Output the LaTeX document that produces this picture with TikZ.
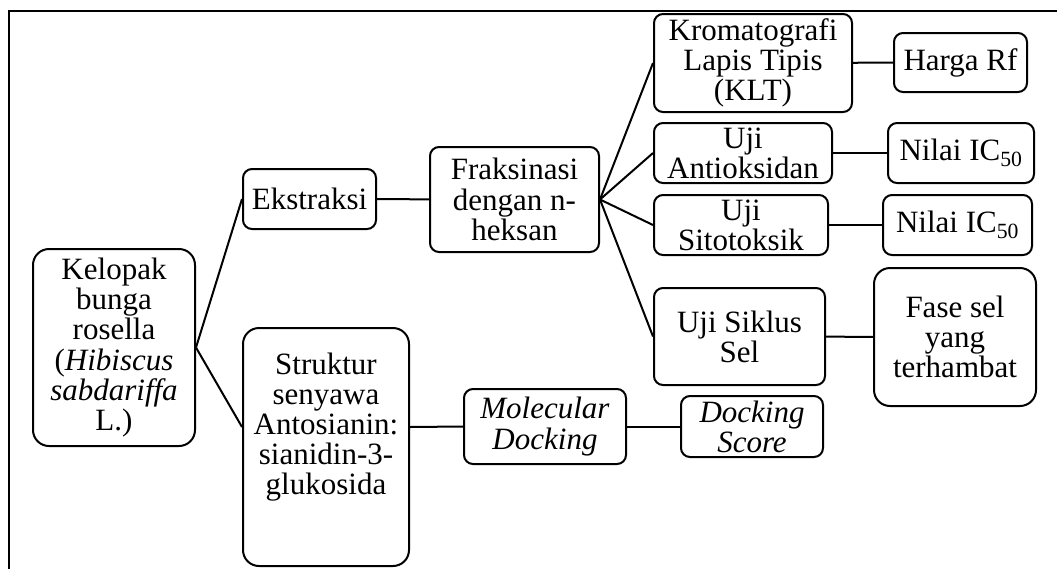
\documentclass[tikz,border=0pt]{standalone}
\usepackage{fontspec}
\setmainfont{Liberation Serif}
\usepackage{tikz,xcolor}
\usetikzlibrary{calc}

\begin{document}
\begin{tikzpicture}[x=1pt, y=-1pt, font=\fontsize{31}{30.2}\selectfont,
	box/.style={draw, line width=2pt, rounded corners=9pt, align=center, inner sep=1pt},
	bigbox/.style={box, rounded corners=16pt},
	link/.style={line width=2pt}]

	\useasboundingbox (0,0) rectangle (1057,568);

	% frame
	\draw[line width=2pt] (9,590) -- (9,11) -- (1080,11);

	% plant and first steps
	\node[bigbox, minimum width=162pt, minimum height=197pt] (kelopak) at (114,347.5) {Kelopak\\bunga\\rosella\\(\textit{Hibiscus}\\\textit{sabdariffa}\\L.)};
	\node[box, minimum width=133pt, minimum height=60pt] (ekstraksi) at (309.5,199) {Ekstraksi};
	\node[box, minimum width=169pt, minimum height=105pt] (fraksinasi) at (514.5,199.5) {Fraksinasi\\dengan n-\\heksan};

	% docking branch
	\node[bigbox, minimum width=166pt, minimum height=238pt] (struktur) at (326,447) {};
	\node[align=center] (strukturtext) at ([yshift=20pt]struktur.center) {Struktur\\senyawa\\Antosianin:\\sianidin-3-\\glukosida};
	\node[box, minimum width=162pt, minimum height=75pt] (molecular) at (545,426.5) {\textit{Molecular}\\\textit{Docking}};
	\node[box, minimum width=142pt, minimum height=61pt] (score) at (752,426.5) {\textit{Docking}\\\textit{Score}};

	% tests
	\node[box, minimum width=198pt, minimum height=98pt] (klt) at (753,63) {Kromatografi\\Lapis Tipis\\(KLT)};
	\node[box, minimum width=178pt, minimum height=60pt] (antioksidan) at (743,153) {Uji\\Antioksidan};
	\node[box, minimum width=174pt, minimum height=60pt] (sitotoksik) at (741,225) {Uji\\Sitotoksik};
	\node[box, minimum width=171pt, minimum height=97pt] (siklus) at (739.5,336.5) {Uji Siklus\\Sel};

	% results
	\node[box, minimum width=133pt, minimum height=59pt] (harga) at (960.5,62.5) {Harga Rf};
	\node[box, minimum width=146pt, minimum height=60pt] (icfirst) at (961,153) {Nilai IC\textsubscript{50}};
	\node[box, minimum width=149pt, minimum height=60pt] (icsecond) at (957.5,225) {Nilai IC\textsubscript{50}};
	\node[bigbox, minimum width=162pt, minimum height=138pt] (fase) at (955,337) {Fase sel\\yang\\terhambat};

	% connectors
	\draw[link] (kelopak.east) -- (ekstraksi.west);
	\draw[link] (kelopak.east) -- ([yshift=20pt]struktur.west);
	\draw[link] (ekstraksi) -- (fraksinasi);
	\draw[link] ([yshift=20pt]struktur.east) -- (molecular.west);
	\draw[link] (molecular) -- (score);
	\foreach \t/\r in {klt/harga, antioksidan/icfirst, sitotoksik/icsecond, siklus/fase}{
		\draw[link] (fraksinasi.east) -- (\t.west);
		\draw[link] (\t) -- (\r);
	}

\end{tikzpicture}
\end{document}
